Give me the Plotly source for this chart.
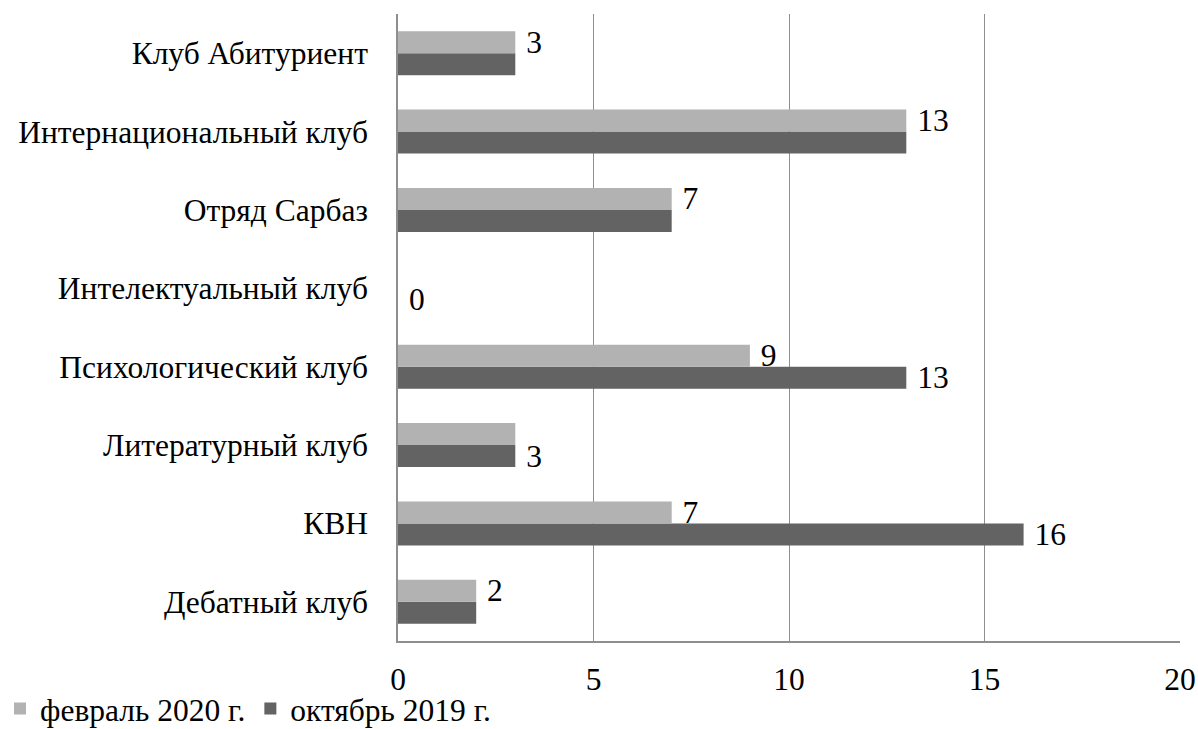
import plotly.graph_objects as go

categories = ["Дебатный клуб", "КВН", "Литературный клуб", "Психологический клуб",
              "Интелектуальный клуб", "Отряд Сарбаз", "Интернациональный клуб", "Клуб Абитуриент"]
feb_2020 = [2, 7, 3, 9, 0, 7, 13, 3]
oct_2019 = [2, 16, 3, 13, 0, 7, 13, 3]
# which data labels are visible in the original
feb_label_shown = [True, True, False, True, False, True, True, True]
oct_label_shown = [False, True, True, True, True, False, False, False]
x_ticks = [0, 5, 10, 15, 20]

FONT = "Liberation Serif"
FS = 31.5
LIGHT = "#b2b2b2"
DARK = "#636363"
GRID = "#8e8e8e"

def labels(vals, shown):
    return [" " + str(v) if s else "" for v, s in zip(vals, shown)]

fig = go.Figure()
fig.add_trace(go.Bar(
    y=categories, x=oct_2019, orientation="h", name="октябрь 2019 г.",
    marker=dict(color=DARK, line=dict(width=0)),
    text=labels(oct_2019, oct_label_shown), textposition="outside",
    textfont=dict(family=FONT, size=FS, color="#000000"),
    constraintext="none", cliponaxis=False, legendrank=2,
))
fig.add_trace(go.Bar(
    y=categories, x=feb_2020, orientation="h", name="февраль 2020 г.",
    marker=dict(color=LIGHT, line=dict(width=0)),
    text=labels(feb_2020, feb_label_shown), textposition="outside",
    textfont=dict(family=FONT, size=FS, color="#000000"),
    constraintext="none", cliponaxis=False, legendrank=1,
))

fig.update_layout(
    width=1198, height=729,
    margin=dict(l=398, r=18, t=14, b=88, autoexpand=False),
    barmode="group", bargap=0.44, bargroupgap=0,
    plot_bgcolor="white", paper_bgcolor="white",
    font=dict(family=FONT, size=FS, color="#000000"),
    legend=dict(
        orientation="h", xref="container", yref="container",
        x=0.0, y=0.028, xanchor="left", yanchor="middle",
        font=dict(family=FONT, size=FS, color="#000000"),
        itemwidth=30, itemsizing="constant", traceorder="normal",
        bgcolor="rgba(0,0,0,0)",
    ),
    xaxis=dict(
        range=[0, 20], tickvals=x_ticks, ticktext=[str(t) for t in x_ticks],
        showgrid=True, gridcolor=GRID, gridwidth=1.3,
        showline=True, linecolor=GRID, linewidth=1.5,
        zeroline=False, ticks="", ticklabelstandoff=9, automargin=False,
        tickfont=dict(family=FONT, size=FS),
    ),
    yaxis=dict(
        categoryorder="array", categoryarray=categories,
        showgrid=False, showline=True, linecolor=GRID, linewidth=1.5,
        ticks="", ticklabelstandoff=22, automargin=False,
        tickfont=dict(family=FONT, size=FS),
    ),
)

fig.write_html("out.html", config={"displayModeBar": False},
               post_script="document.body.style.margin='0px';")
